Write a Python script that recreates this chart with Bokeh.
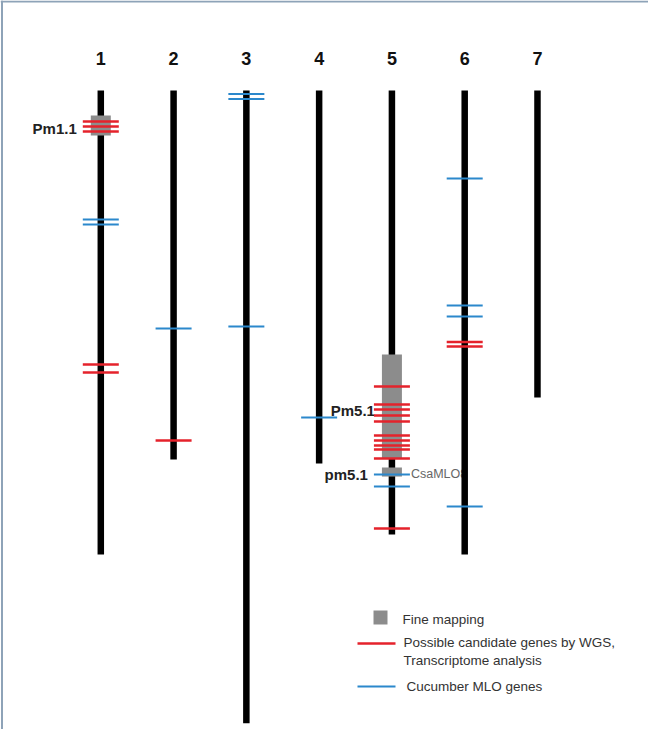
from bokeh.plotting import figure
from bokeh.models import Range1d, Span
from bokeh.embed import file_html
from bokeh.resources import INLINE
from bokeh.core.properties import value

# ---------------- data (positions in Mb along each chromosome) ----------------
chromosomes = ["1", "2", "3", "4", "5", "6", "7"]
chrom_length_mb = [28.68, 22.81, 39.10, 23.05, 27.44, 28.68, 18.97]

# possible candidate genes by WGS / transcriptome analysis (red)
red_chrom = [1, 1, 1, 1, 1, 2, 5, 5, 5, 5, 5, 5, 5, 5, 5, 5, 5, 6, 6]
red_pos = [1.92, 2.22, 2.53, 16.93, 17.43, 21.63,
           18.29, 19.41, 19.72, 20.09, 20.46, 21.32, 21.63, 21.94, 22.19, 22.74, 27.07,
           15.54, 15.82]

# cucumber MLO genes (blue)
blue_chrom = [1, 1, 2, 3, 3, 3, 4, 5, 5, 6, 6, 6, 6]
blue_pos = [7.97, 8.28, 14.71, 0.22, 0.53, 14.59, 20.21, 23.73, 24.47,
            5.44, 13.29, 13.97, 25.71]

# fine mapping intervals (grey)
fine_chrom = [1, 5, 5]
fine_start = [1.55, 16.32, 23.30]
fine_end = [2.78, 22.74, 23.86]

# QTL labels
qtl_names = ["Pm1.1", "Pm5.1", "pm5.1"]
qtl_chrom = [1, 5, 5]
qtl_pos = [2.32, 19.78, 23.73]
qtl_xoff = [-24, -17, -24]

gene_names = ["CsaMLO8"]
gene_chrom = [5]
gene_pos = [23.73]

legend_labels = ["Fine mapping", "Possible candidate genes by WGS,",
                 "Transcriptome analysis", "Cucumber MLO genes"]

# ---------------- layout helpers ----------------
X0, DX = 108.3, 72.78      # page px of chromosome 1, spacing
Y0, DY = 98.0, 16.18       # page px of 0 Mb, px per Mb


def px2x(px):
    return (px - X0) / DX + 1


def px2y(py):
    return (py - Y0) / DY


W, H = 648, 729
RED = "#e5222b"
BLUE = "#2b88cc"
GREY = "#8c8c8c"
FONT = "Liberation Sans"

p = figure(width=W, height=H, output_backend="svg", toolbar_location=None,
           x_range=Range1d(px2x(8), px2x(8 + W)),
           y_range=Range1d(px2y(8 + H), px2y(8)),
           min_border=0, background_fill_color="white", border_fill_color="white")
p.axis.visible = False
p.grid.visible = False
p.outline_line_color = None

# frame (left and top edges)
p.add_layout(Span(location=px2x(9.5), dimension="height", line_color="#8ea3b8", line_width=2))
p.add_layout(Span(location=px2y(9.0), dimension="width", line_color="#8ea3b8", line_width=2))

# chromosome numbers
p.text(x=[i + 1 for i in range(len(chromosomes))], y=[px2y(66)] * len(chromosomes),
       text=chromosomes, text_font=value(FONT), text_font_style="bold",
       text_font_size="18px", text_align="center", text_baseline="middle",
       text_color="#111111")

# labels (drawn under the chromosomes/markers)
p.text(x=gene_chrom, y=gene_pos, text=gene_names, x_offset=19,
       text_font=value(FONT), text_font_size="12.5px", text_align="left",
       text_baseline="middle", text_color="#666666")
for name, c, pos, xo in zip(qtl_names, qtl_chrom, qtl_pos, qtl_xoff):
    p.text(x=[c], y=[pos], text=[name], x_offset=xo, text_font=value(FONT),
           text_font_style="bold", text_font_size="15px", text_align="right",
           text_baseline="middle", text_color="#222222")

# chromosomes
xs = [i + 1 for i in range(len(chromosomes))]
p.segment(x0=xs, y0=[0] * len(xs), x1=xs, y1=chrom_length_mb,
          line_color="black", line_width=6.5, line_cap="butt")

# fine mapping boxes
half_box = 10 / DX
p.quad(left=[c - half_box for c in fine_chrom], right=[c + half_box for c in fine_chrom],
       bottom=fine_end, top=fine_start, fill_color=GREY, line_color=None)

# markers
half_tick = 18 / DX
p.segment(x0=[c - half_tick for c in red_chrom], x1=[c + half_tick for c in red_chrom],
          y0=red_pos, y1=red_pos, line_color=RED, line_width=2.5)
p.segment(x0=[c - half_tick for c in blue_chrom], x1=[c + half_tick for c in blue_chrom],
          y0=blue_pos, y1=blue_pos, line_color=BLUE, line_width=2)

# legend
p.quad(left=[px2x(381)], right=[px2x(395)], top=[px2y(618)], bottom=[px2y(632)],
       fill_color=GREY, line_color=None)
p.segment(x0=[px2x(365)], x1=[px2x(403)], y0=[px2y(651)], y1=[px2y(651)],
          line_color=RED, line_width=2.5)
p.segment(x0=[px2x(365)], x1=[px2x(403)], y0=[px2y(694)], y1=[px2y(694)],
          line_color=BLUE, line_width=2)
p.text(x=[px2x(410), px2x(411), px2x(411), px2x(414)],
       y=[px2y(627), px2y(650), px2y(668), px2y(694)],
       text=legend_labels, text_font=value(FONT), text_font_size="13.5px",
       text_align="left", text_baseline="middle", text_color="#333333")

open("out.html", "w").write(file_html(p, INLINE))
